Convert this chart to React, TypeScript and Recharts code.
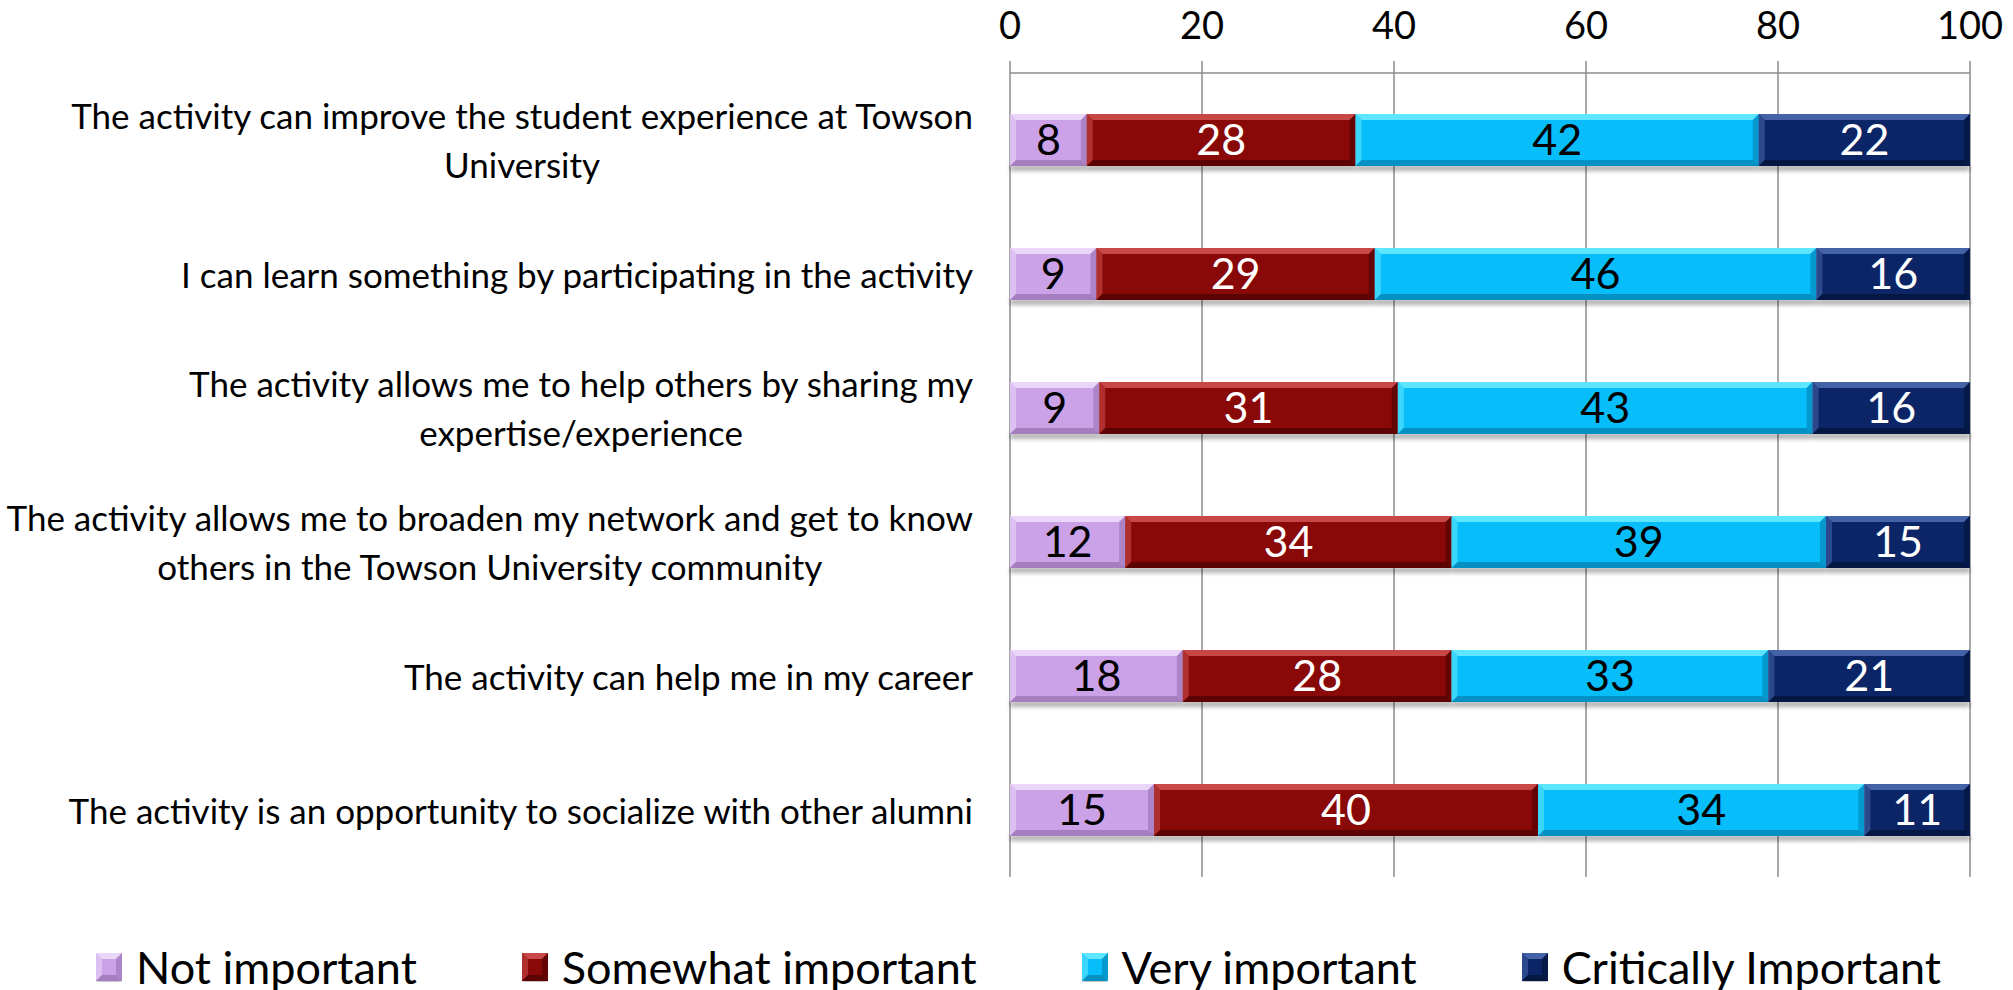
import { BarChart, Bar, XAxis, YAxis, CartesianGrid, LabelList, Legend } from 'recharts';

const categories = [
  'The activity can improve the student experience at Towson\nUniversity',
  'I can learn something by participating in the activity',
  'The activity allows me to help others by sharing my\nexpertise/experience',
  'The activity allows me to broaden my network and get to know\nothers in the Towson University community',
  'The activity can help me in my career',
  'The activity is an opportunity to socialize with other alumni',
];

const notImportant = [8, 9, 9.3, 12, 18, 15];
const somewhatImportant = [28, 29, 31.1, 34, 28, 40];
const veryImportant = [42, 46, 43.2, 39, 33, 34];
const criticallyImportant = [22, 16, 16.4, 15, 21, 11];

const xTicks = [0, 20, 40, 60, 80, 100];
const rowEdges = [0, 1, 2, 3, 4, 5, 6];

const series = [
  { key: 'not', name: 'Not important', color: '#CBA1E8', light: '#EAD6F8', dark: '#A47EBF', text: '#000000' },
  { key: 'somewhat', name: 'Somewhat important', color: '#890808', light: '#C84848', dark: '#5C0404', text: '#ffffff' },
  { key: 'very', name: 'Very important', color: '#07BDFA', light: '#5FE6FF', dark: '#0590C4', text: '#000000' },
  { key: 'critical', name: 'Critically Important', color: '#0B2566', light: '#4462A8', dark: '#051843', text: '#ffffff' },
];

const data = categories.map((label, i) => ({
  label,
  not: notImportant[i],
  somewhat: somewhatImportant[i],
  very: veryImportant[i],
  critical: criticallyImportant[i],
}));

type Look = { color: string; light: string; dark: string };

function BevelRect({ x, y, width, height, look }: { x: number; y: number; width: number; height: number; look: Look }) {
  if (!width || !height) return null;
  const b = Math.min(6, width / 2, height / 2);
  const r = x + width;
  const bt = y + height;
  return (
    <g>
      <rect x={x} y={bt - 1} width={width} height={6} fill="#000" opacity={0.3} filter="url(#barShadow)" />
      <rect x={x} y={y} width={width} height={height} fill={look.color} />
      <polygon points={`${x},${y} ${r},${y} ${r - b},${y + b} ${x + b},${y + b}`} fill={look.light} />
      <polygon points={`${x},${y} ${x + b},${y + b} ${x + b},${bt - b} ${x},${bt}`} fill={look.light} opacity={0.6} />
      <polygon points={`${x},${bt} ${r},${bt} ${r - b},${bt - b} ${x + b},${bt - b}`} fill={look.dark} />
      <polygon points={`${r},${y} ${r},${bt} ${r - b},${bt - b} ${r - b},${y + b}`} fill={look.dark} opacity={0.8} />
    </g>
  );
}

function CategoryTick(props: any) {
  const { x, y, payload } = props;
  return (
    <g>
      <foreignObject x={x - 990} y={y - 60} width={990} height={120}>
        <div
          style={{
            width: '100%',
            height: '100%',
            display: 'flex',
            alignItems: 'center',
            justifyContent: 'flex-end',
          }}
        >
          <div
            style={{
              textAlign: 'center',
              whiteSpace: 'pre-line',
              fontFamily: 'Lato',
              fontSize: 35,
              lineHeight: '49px',
              color: '#000',
            }}
          >
            {payload.value}
          </div>
        </div>
      </foreignObject>
    </g>
  );
}

function LegendBox() {
  return (
    <div
      style={{
        height: 113,
        width: 2013,
        boxSizing: 'border-box',
        paddingTop: 66,
        paddingLeft: 96,
        paddingRight: 72,
        display: 'flex',
        justifyContent: 'space-between',
        alignItems: 'flex-start',
      }}
    >
      {series.map((s) => (
        <div key={s.key} style={{ display: 'flex', alignItems: 'center', height: 48 }}>
          <svg width={26} height={29} style={{ marginRight: 14 }}>
            <BevelRect x={0} y={0} width={26} height={28} look={s} />
          </svg>
          <span style={{ fontFamily: 'Lato', fontSize: 45, color: '#000', lineHeight: '48px' }}>{s.name}</span>
        </div>
      ))}
    </div>
  );
}

export default function App() {
  return (
    <div style={{ position: 'absolute', left: 0, top: 0, width: 2013, height: 990, background: '#fff', fontFamily: 'Lato' }}>
      <BarChart width={2013} height={990} data={data} layout="vertical" margin={{ top: 0, right: 43, bottom: 0, left: 0 }}>
        <defs>
          <filter id="barShadow" x="-10%" y="-100%" width="120%" height="300%">
            <feGaussianBlur stdDeviation="2" />
          </filter>
        </defs>
        <YAxis
          yAxisId="edges"
          type="number"
          domain={[0, 6]}
          ticks={rowEdges}
          width={0}
          tick={false}
          tickSize={11}
          tickLine={{ stroke: '#8c8c8c', strokeWidth: 1.5 }}
          axisLine={{ stroke: '#8c8c8c', strokeWidth: 1.5 }}
        />
        <YAxis
          yAxisId="cat"
          type="category"
          dataKey="label"
          width={1010}
          tickLine={false}
          axisLine={false}
          tickSize={0}
          tickMargin={37}
          tick={<CategoryTick />}
          interval={0}
        />
        <XAxis
          type="number"
          orientation="top"
          domain={[0, 100]}
          ticks={xTicks}
          height={73}
          tickSize={12}
          tickMargin={22}
          tick={{ fill: '#000', fontSize: 38 }}
          tickLine={{ stroke: '#8c8c8c', strokeWidth: 1.5 }}
          axisLine={{ stroke: '#8c8c8c', strokeWidth: 1.5 }}
        />
        <CartesianGrid yAxisId="cat" horizontal={false} stroke="#8c8c8c" strokeWidth={1.5} />
        <Legend verticalAlign="bottom" wrapperStyle={{ left: 0, width: 2013 }} content={() => <LegendBox />} />
        {series.map((s) => (
          <Bar
            key={s.key}
            yAxisId="cat"
            dataKey={s.key}
            name={s.name}
            stackId="a"
            fill={s.color}
            barSize={52}
            isAnimationActive={false}
            shape={(p: any) => <BevelRect x={p.x} y={p.y} width={p.width} height={p.height} look={s} />}
          >
            <LabelList
              dataKey={s.key}
              position="center"
              fill={s.text}
              fontSize={43}
              formatter={(v: any) => Math.round(Number(v))}
            />
          </Bar>
        ))}
      </BarChart>
    </div>
  );
}
